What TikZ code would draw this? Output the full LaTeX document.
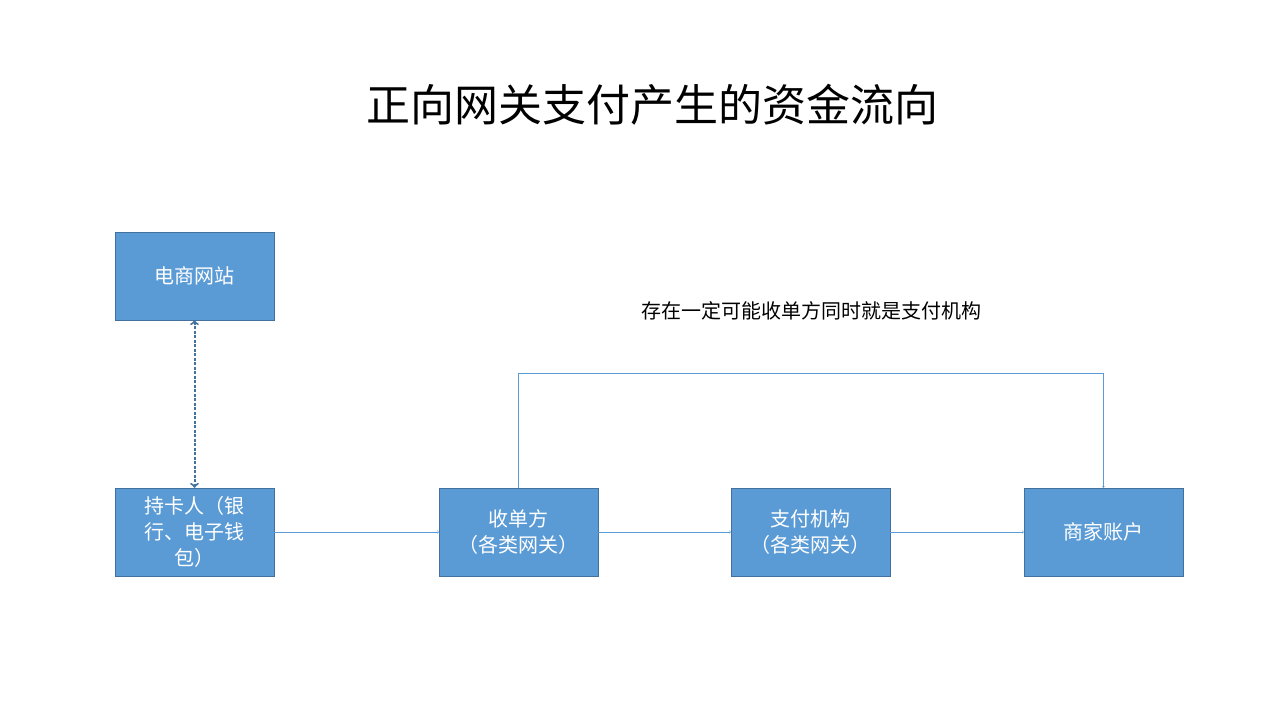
\documentclass[tikz,border=0pt]{standalone}
\usepackage{fontspec}
\newfontfamily\cjk{Noto Sans CJK SC}
\usetikzlibrary{positioning}
\definecolor{boxfill}{RGB}{91,155,213}
\definecolor{boxline}{RGB}{65,113,156}
\definecolor{linkcol}{RGB}{91,155,213}
\tikzset{
  box/.style = {draw = boxline, fill = boxfill, text = white, minimum width = 159pt, minimum height = 88pt, align = center, font = \cjk\fontsize{20}{26}\selectfont},
  flow/.style = {draw = linkcol, ->, >=stealth'}
}
\usetikzlibrary{arrows}
\begin{document}
\begin{tikzpicture}[x = 1pt, y = -1pt]
	\useasboundingbox (0, 0) rectangle (1280, 720);
	\node[font = \cjk\fontsize{44}{50}\selectfont] (title) at (652, 105) {正向网关支付产生的资金流向};
	\node[box] (site) at (194.5, 276) {电商网站};
	\node[box] (holder) at (194.5, 532) {持卡人（银\\行、电子钱\\包）};
	\node[box] (acq) at (518.5, 532) {收单方\\（各类网关）};
	\node[box] (pay) at (810.5, 532) {支付机构\\（各类网关）};
	\node[box] (merch) at (1103.5, 532) {商家账户};
	\node[font = \cjk\fontsize{20}{24}\selectfont] (note) at (811, 311) {存在一定可能收单方同时就是支付机构};
	\draw[flow, ->, >=to] (holder) -- (acq);
	\draw[flow, ->, >=to] (acq) -- (pay);
	\draw[flow, ->, >=to] (pay) -- (merch);
	\draw[flow, ->, >=to] (acq.north) -- ++(0, -115) -| (merch.north);
	\draw[boxline, line width = 2pt, dashed, dash pattern = on 3pt off 1.5pt, <->, >=to] (site.south) -- (holder.north);
\end{tikzpicture}
\end{document}
